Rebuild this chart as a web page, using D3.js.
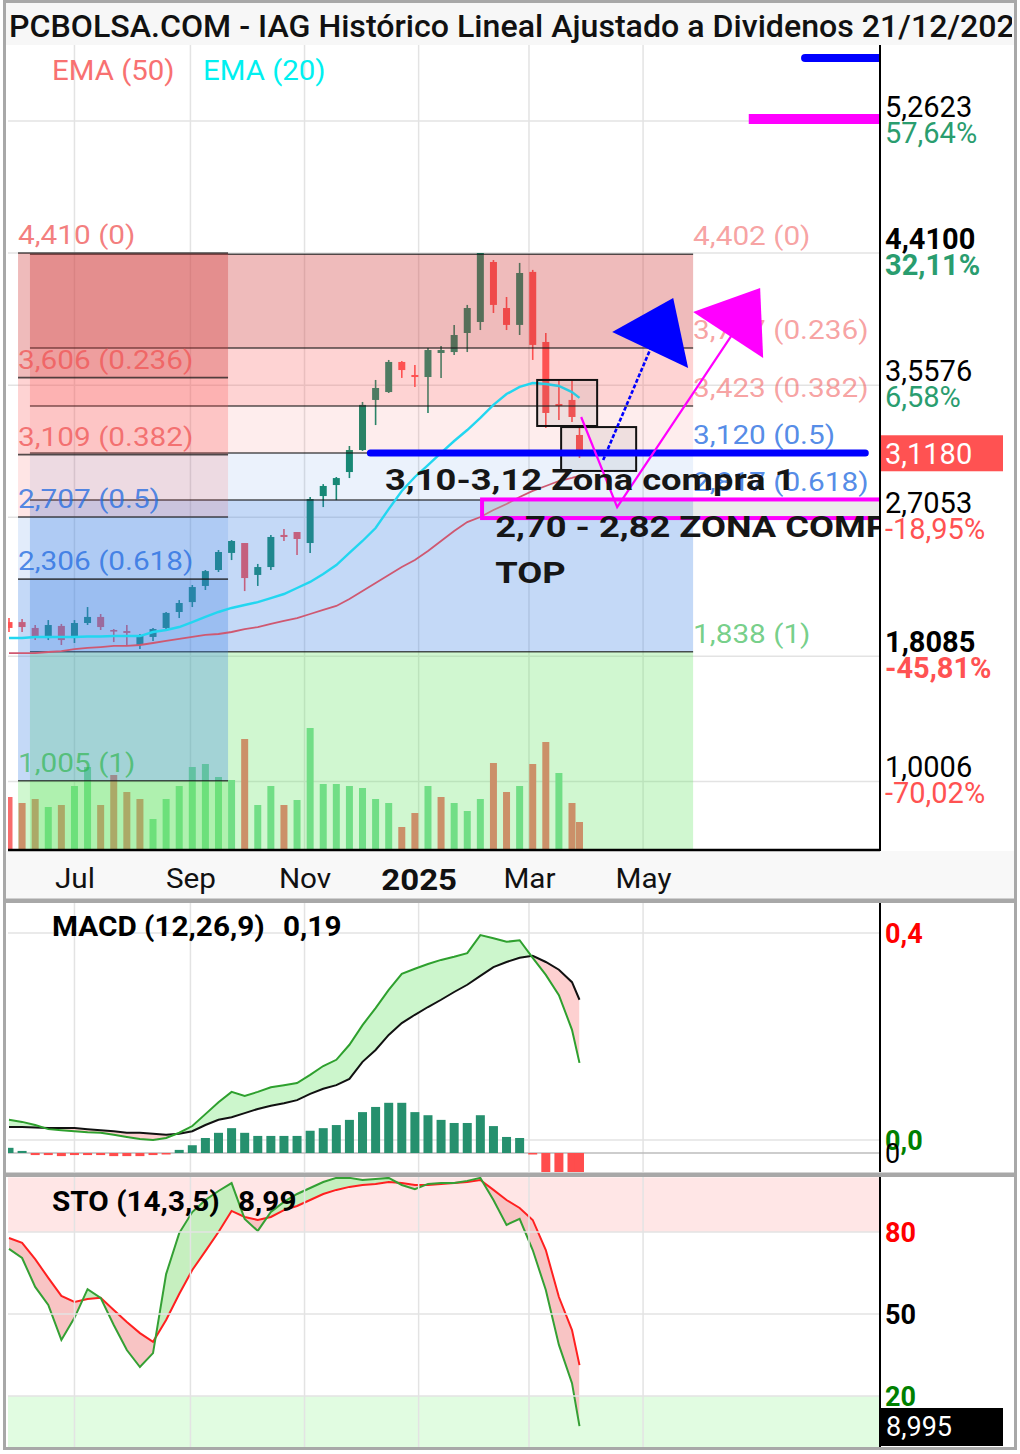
<!DOCTYPE html>
<html>
<head>
<meta charset="utf-8">
<script src="https://d3js.org/d3.v7.min.js"></script>
<style>
  body { margin: 0; background: #ffffff; }
  svg text { font-family: Roboto, "Liberation Sans", sans-serif; }
</style>
</head>
<body>
<div id="chart"></div>
<script>
(function(d3) {
  'use strict';

  // weekly bars, IAG (the last one is a partial week)
  var dates = ['2024-05-27','2024-06-03','2024-06-10','2024-06-17','2024-06-24','2024-07-01','2024-07-08','2024-07-15','2024-07-22','2024-07-29',
               '2024-08-05','2024-08-12','2024-08-19','2024-08-26','2024-09-02','2024-09-09','2024-09-16','2024-09-23','2024-09-30','2024-10-07',
               '2024-10-14','2024-10-21','2024-10-28','2024-11-04','2024-11-11','2024-11-18','2024-11-25','2024-12-02','2024-12-09','2024-12-16',
               '2024-12-23','2024-12-30','2025-01-06','2025-01-13','2025-01-20','2025-01-27','2025-02-03','2025-02-10','2025-02-17','2025-02-24',
               '2025-03-03','2025-03-10','2025-03-17','2025-03-24','2025-03-28'];
  var opens  = [2.029,2.029,1.991,1.926,2.004,1.926,2.023,2.062,1.978,1.971,1.881,1.933,1.991,2.094,2.158,2.262,2.365,2.475,2.539,2.333,
                2.384,2.591,2.610,2.539,2.842,2.913,2.997,3.139,3.462,3.513,3.707,3.623,3.610,3.765,3.771,3.894,3.965,4.352,4.055,3.946,
                4.288,3.836,3.436,3.462,3.236];
  var highs  = [2.055,2.049,2.010,2.042,2.017,2.042,2.126,2.081,1.984,2.010,1.952,1.991,2.094,2.171,2.268,2.365,2.494,2.558,2.539,2.404,
                2.591,2.629,2.610,2.836,2.919,2.965,3.165,3.449,3.591,3.720,3.713,3.688,3.797,3.810,3.946,4.075,4.410,4.365,4.126,4.346,
                4.301,3.894,3.591,3.591,3.288];
  var lows   = [1.965,1.965,1.913,1.913,1.881,1.894,2.010,1.978,1.900,1.881,1.855,1.907,1.978,2.055,2.126,2.236,2.352,2.429,2.229,2.262,
                2.365,2.552,2.462,2.475,2.771,2.816,2.958,3.133,3.300,3.507,3.604,3.545,3.378,3.604,3.752,3.771,3.913,4.023,3.913,3.881,
                3.720,3.281,3.333,3.320,3.088];
  var closes = [1.991,1.997,1.933,2.010,1.913,2.023,2.062,1.997,1.968,1.959,1.939,1.984,2.088,2.152,2.255,2.358,2.481,2.552,2.313,2.384,
                2.578,2.578,2.565,2.823,2.907,2.958,3.139,3.430,3.539,3.707,3.655,3.610,3.784,3.784,3.881,4.055,4.410,4.075,3.946,4.281,
                3.817,3.378,3.423,3.352,3.118];
  var volumes = [53,47,51,43,45,64,83,45,75,58,51,31,51,64,83,86,73,70,111,45,64,45,50,122,66,66,64,62,51,47,23,37,64,53,47,39,51,87,58,64,86,108,77,47,28];
  var volUp   = [0,0,0,1,0,1,1,0,0,0,0,1,1,1,1,1,1,1,0,1,1,0,1,1,1,1,1,1,1,1,0,0,1,0,1,1,1,0,0,1,0,0,1,0,0];

  var ema20 = [1.926,1.926,1.933,1.933,1.933,1.933,1.936,1.936,1.939,1.939,1.939,1.965,1.978,1.997,2.029,2.062,2.094,2.120,2.139,2.158,
               2.184,2.210,2.249,2.288,2.339,2.397,2.475,2.552,2.636,2.758,2.875,2.965,3.042,3.120,3.197,3.268,3.346,3.430,3.500,3.546,
               3.571,3.565,3.552,3.513,3.475];
  var ema50 = [1.829,1.829,1.829,1.836,1.842,1.855,1.862,1.868,1.875,1.875,1.881,1.894,1.907,1.920,1.933,1.946,1.952,1.965,1.984,1.997,
               2.017,2.036,2.055,2.081,2.107,2.133,2.178,2.229,2.281,2.333,2.384,2.429,2.487,2.552,2.616,2.674,2.707,2.752,2.791,2.836,
               2.875,2.907,2.939,2.959,2.972];

  var macd   = [0.039,0.035,0.029,0.021,0.019,0.017,0.015,0.014,0.010,0.006,0.002,0.000,0.004,0.014,0.027,0.050,0.073,0.093,0.085,0.093,
                0.102,0.106,0.110,0.126,0.143,0.155,0.184,0.222,0.255,0.290,0.321,0.331,0.340,0.348,0.354,0.361,0.396,0.390,0.383,0.386,
                0.352,0.319,0.280,0.213,0.149];
  var signal = [0.025,0.025,0.024,0.023,0.023,0.023,0.021,0.019,0.017,0.014,0.014,0.012,0.010,0.012,0.017,0.029,0.039,0.044,0.052,0.060,
                0.066,0.071,0.077,0.089,0.099,0.106,0.118,0.151,0.174,0.203,0.226,0.242,0.257,0.271,0.286,0.300,0.317,0.334,0.344,0.352,
                0.356,0.344,0.329,0.305,0.271];
  var hist   = [0.010,0.004,-0.004,-0.004,-0.006,-0.004,-0.004,-0.004,-0.006,-0.006,-0.006,-0.004,-0.002,0.006,0.015,0.029,0.039,0.048,0.039,0.033,
                0.033,0.033,0.033,0.043,0.048,0.054,0.064,0.079,0.089,0.097,0.097,0.079,0.073,0.064,0.058,0.058,0.073,0.052,0.031,0.029,
                -0.002,-0.06,-0.06,-0.06,-0.06];

  var stoK = [73.8,70.5,59.9,53.3,40.5,48.6,59.1,55.9,46.0,36.8,30.6,35.7,64.6,79.6,87.3,91.7,95.0,97.9,84.8,80.4,
              87.3,91.0,93.9,96.1,98.3,99.8,99.8,99.0,99.4,99.8,97.2,95.7,97.6,97.9,97.9,98.7,99.8,91.7,82.6,84.8,
              73.4,58.8,38.7,24.7,9.0];
  var stoD = [77.8,76.0,70.1,63.2,56.6,54.4,55.5,55.9,51.5,47.1,43.0,39.8,47.8,57.3,66.1,73.0,80.0,87.7,85.5,84.4,
              85.5,88.0,89.5,91.7,93.9,95.4,96.5,97.2,97.6,98.3,97.9,97.2,97.2,97.6,97.9,98.3,99.0,95.4,91.7,88.8,
              84.4,73.4,56.2,44.1,31.3];

  var tickDates  = ['2024-07-01','2024-09-01','2024-11-01','2025-01-01','2025-03-01','2025-05-01'];
  var tickLabels = ['Jul','Sep','Nov','2025','Mar','May'];

  var axisPrices = [5.2623, 4.4100, 3.5576, 2.7053, 1.8085, 1.0006];
  var axisPct    = ['57,64%','32,11%','6,58%','-18,95%','-45,81%','-70,02%'];
  var axisBold   = [0,1,0,0,1,0];
  var lastPrice  = 3.118;

  var fibRatios = [0, 0.236, 0.382, 0.5, 0.618, 1];
  var fibLeft   = [4.410, 3.606, 3.109, 2.707, 2.306, 1.005];
  var fibRight  = [4.402, 3.797, 3.423, 3.120, 2.817, 1.838];

  // drawings: [weeks after first bar, price]
  var fibLeftSpan  = [0.69, 16.73];
  var fibRightSpan = [1.60, 52.25];
  var zone1 = [27.6, 65.4, 3.12];
  var zone2 = [36.13, 67, 2.82, 2.70];
  var targetBlue = [60.8, 67, 5.668];
  var targetPink = [56.5, 67, 5.275];
  var boxes = [[40.34, 44.92, 3.591, 3.294], [42.17, 47.90, 3.287, 3.004]];
  var blueLine = [[45.38, 3.074], [49.12, 3.817]];
  var blueHead = [[46.07, 3.900], [50.73, 4.120], [51.87, 3.668]];
  var pinkLine = [[43.70, 3.352], [46.45, 2.771], [55.46, 3.913]];
  var pinkHead = [[52.25, 4.029], [57.37, 4.184], [57.60, 3.733]];
  var notes = [
    { w: 28.72, p: 2.881, text: '3,10-3,12 Zona compra 1' },
    { w: 37.13, p: 2.578, text: '2,70 - 2,82 ZONA COMPRA' },
    { w: 37.13, p: 2.281, text: 'TOP' }
  ];

  var W = 1020, H = 1454, L = 8, R = 880;
  var parse = d3.utcParse('%Y-%m-%d');
  var dts = dates.map(parse);
  var ticks = tickDates.map(parse);

  var x  = d3.scaleUtc().domain([dts[0], dts[43]]).range([9, 572]);
  var y  = d3.scaleLinear().domain([1.005, 4.41]).range([780.8, 253]);
  var yv = d3.scaleLinear().domain([0, 150]).range([850, 700]);
  var ym = d3.scaleLinear().domain([0, 0.4]).range([1140, 933]);
  var yh = d3.scaleLinear().domain([0, 0.4]).range([1153, 946]);
  var ys = d3.scaleLinear().domain([20, 80]).range([1396, 1232]);

  function xw(w) { return x(new Date(dts[0].getTime() + w * 7 * 864e5)); }
  function xi(d, i) { return x(dts[i]); }
  function comma(v, n) { return v.toFixed(n).replace('.', ','); }
  function stretch(sel, k) {
    sel.each(function() {
      var len = this.getComputedTextLength();
      d3.select(this).attr('textLength', len * k).attr('lengthAdjust', 'spacingAndGlyphs');
    });
    return sel;
  }

  var svg = d3.select('#chart').append('svg')
    .attr('width', W).attr('height', H).style('display', 'block');
  var defs = svg.append('defs');
  function clipRect(id, x0, y0, w, h) {
    defs.append('clipPath').attr('id', id).append('rect')
      .attr('x', x0).attr('y', y0).attr('width', w).attr('height', h);
  }
  clipRect('cMain', L, 45, R - L, 805);
  clipRect('cMacd', L, 903, R - L, 269);
  clipRect('cSto', L, 1177, R - L, 270);
  clipRect('cTitle', 0, 0, 1012, 45);

  svg.append('rect').attr('width', W).attr('height', H).attr('fill', '#fff');
  svg.append('rect').attr('x', 5).attr('y', 2).attr('width', 1010).attr('height', 43).attr('fill', '#f7f7f7');
  svg.append('rect').attr('x', 5).attr('y', 851).attr('width', 1010).attr('height', 48).attr('fill', '#f8f8f8');

  // ---------- STO bands (under grid)
  var sto = svg.append('g').attr('clip-path', 'url(#cSto)');
  sto.append('rect').attr('x', L).attr('width', R - L).attr('y', ys(100)).attr('height', ys(80) - ys(100)).attr('fill', '#ffe6e6');
  sto.append('rect').attr('x', L).attr('width', R - L).attr('y', ys(20)).attr('height', ys(0) - ys(20)).attr('fill', '#e1fce1');

  // ---------- grid
  var grid = svg.append('g').attr('stroke', '#e3e3e3').attr('stroke-width', 1.5);
  ticks.forEach(function(d) {
    [[45, 850], [903, 1172], [1177, 1447]].forEach(function(r) {
      grid.append('line').attr('x1', x(d)).attr('x2', x(d)).attr('y1', r[0]).attr('y2', r[1]);
    });
  });
  axisPrices.forEach(function(v) {
    grid.append('line').attr('x1', L).attr('x2', R).attr('y1', y(v)).attr('y2', y(v));
  });
  [ym(0.4), ym(0), ys(80), ys(50), ys(20)].forEach(function(v) {
    grid.append('line').attr('x1', L).attr('x2', R).attr('y1', v).attr('y2', v);
  });
  grid.append('line').attr('x1', L).attr('x2', R).attr('y1', yh(0)).attr('y2', yh(0)).attr('stroke', '#bdbdbd');

  // ---------- main price panel
  var main = svg.append('g').attr('clip-path', 'url(#cMain)');

  main.selectAll('rect.vol').data(volumes).enter().append('rect')
    .attr('x', function(d, i) { return x(dts[i]) - 3.5; })
    .attr('width', 7)
    .attr('y', function(d) { return yv(d); })
    .attr('height', function(d) { return yv(0) - yv(d); })
    .attr('fill', function(d, i) { return volUp[i] ? '#78dc96' : '#f86c6c'; });

  var candle = main.selectAll('g.candle').data(dts).enter().append('g');
  candle.append('line')
    .attr('x1', xi).attr('x2', xi)
    .attr('y1', function(d, i) { return y(highs[i]); })
    .attr('y2', function(d, i) { return y(lows[i]); })
    .attr('stroke', function(d, i) { return closes[i] >= opens[i] ? '#148a69' : '#ff5252'; })
    .attr('stroke-width', 1.6);
  candle.append('rect')
    .attr('x', function(d, i) { return x(d) - 3.5; })
    .attr('width', 7)
    .attr('y', function(d, i) { return y(Math.max(opens[i], closes[i])); })
    .attr('height', function(d, i) { return Math.max(1.6, Math.abs(y(opens[i]) - y(closes[i]))); })
    .attr('fill', function(d, i) { return closes[i] >= opens[i] ? '#148a69' : '#ff5252'; });

  // ---------- fibonacci retracements
  function drawFib(span, prices, fills, labelAtEnd) {
    var g = main.append('g');
    var x0 = xw(span[0]), x1 = xw(span[1]);
    for (var k = 0; k < prices.length - 1; k++) {
      g.append('rect').attr('x', x0).attr('width', x1 - x0)
        .attr('y', y(prices[k])).attr('height', y(prices[k + 1]) - y(prices[k]))
        .attr('fill', fills[k]);
    }
    g.append('rect').attr('x', x0).attr('width', x1 - x0)
      .attr('y', y(prices[prices.length - 1])).attr('height', 850 - y(prices[prices.length - 1]))
      .attr('fill', 'rgba(100,230,100,0.3)');
    prices.forEach(function(p) {
      g.append('line').attr('x1', x0).attr('x2', x1).attr('y1', y(p)).attr('y2', y(p))
        .attr('stroke', 'rgba(25,25,25,0.75)').attr('stroke-width', 1.6);
    });
    return { g: g, x: labelAtEnd ? x1 : x0 };
  }
  function fibLabels(f, prices, alpha) {
    prices.forEach(function(p, k) {
      var r = fibRatios[k];
      var col = r < 0.5 ? 'rgba(240,85,85,' + alpha + ')' : (r < 1 ? 'rgba(40,110,225,0.8)' : 'rgba(40,180,70,0.65)');
      stretch(f.g.append('text').attr('x', f.x).attr('y', y(p) - 9)
        .attr('font-size', 25).attr('fill', col)
        .text(comma(p, 3) + ' (' + r + ')'), 1.19);
    });
  }
  var fr = drawFib(fibRightSpan, fibRight,
    ['rgba(210,60,60,0.35)', 'rgba(250,80,80,0.25)', 'rgba(250,80,80,0.1)', 'rgba(60,130,230,0.1)', 'rgba(60,130,230,0.3)'], true);
  var fl = drawFib(fibLeftSpan, fibLeft,
    ['rgba(210,60,60,0.35)', 'rgba(250,80,80,0.25)', 'rgba(250,80,80,0.15)', 'rgba(60,130,230,0.15)', 'rgba(60,130,230,0.3)'], false);

  // moving averages
  var emaLine = function(arr) {
    return d3.line().x(xi).y(function(d) { return y(d); })(arr);
  };
  main.append('path').attr('d', emaLine(ema50)).attr('fill', 'none').attr('stroke', '#cf5871').attr('stroke-width', 1.8);
  main.append('path').attr('d', emaLine(ema20)).attr('fill', 'none').attr('stroke', '#22d6f0').attr('stroke-width', 2.4);

  fibLabels(fr, fibRight, 0.55);
  fibLabels(fl, fibLeft, 0.75);

  // ---------- drawings
  var dr = main.append('g');
  dr.append('rect')
    .attr('x', xw(zone2[0])).attr('width', xw(zone2[1]) - xw(zone2[0]))
    .attr('y', y(zone2[2])).attr('height', y(zone2[3]) - y(zone2[2]))
    .attr('fill', 'rgba(190,190,190,0.3)').attr('stroke', '#ff00ff').attr('stroke-width', 4);
  boxes.forEach(function(b) {
    dr.append('rect')
      .attr('x', xw(b[0])).attr('width', xw(b[1]) - xw(b[0]))
      .attr('y', y(b[2])).attr('height', y(b[3]) - y(b[2]))
      .attr('fill', 'rgba(110,110,110,0.1)').attr('stroke', '#111').attr('stroke-width', 2);
  });
  dr.append('line').attr('x1', xw(zone1[0])).attr('x2', xw(zone1[1])).attr('y1', y(zone1[2])).attr('y2', y(zone1[2]))
    .attr('stroke', '#0000ff').attr('stroke-width', 7).attr('stroke-linecap', 'round');
  dr.append('line').attr('x1', xw(targetBlue[0])).attr('x2', xw(targetBlue[1])).attr('y1', y(targetBlue[2])).attr('y2', y(targetBlue[2]))
    .attr('stroke', '#0000ff').attr('stroke-width', 8).attr('stroke-linecap', 'round');
  dr.append('line').attr('x1', xw(targetPink[0])).attr('x2', xw(targetPink[1])).attr('y1', y(targetPink[2])).attr('y2', y(targetPink[2]))
    .attr('stroke', '#ff00ff').attr('stroke-width', 10);

  var pt = d3.line().x(function(d) { return xw(d[0]); }).y(function(d) { return y(d[1]); });
  dr.append('path').attr('d', pt(pinkLine)).attr('fill', 'none').attr('stroke', '#ff00ff').attr('stroke-width', 2.2);
  dr.append('path').attr('d', pt(blueLine)).attr('fill', 'none').attr('stroke', '#0000ff').attr('stroke-width', 2.6).attr('stroke-dasharray', '4,2');
  dr.append('path').attr('d', pt(blueHead) + 'Z').attr('fill', '#0000ff');
  dr.append('path').attr('d', pt(pinkHead) + 'Z').attr('fill', '#ff00ff');

  notes.forEach(function(n) {
    stretch(dr.append('text').attr('x', xw(n.w)).attr('y', y(n.p))
      .attr('font-size', 30).attr('font-weight', 700).attr('fill', '#161616')
      .text(n.text), 1.21);
  });

  // ---------- legend and title
  stretch(svg.append('text').attr('x', 52).attr('y', 80).attr('font-size', 27).attr('fill', '#f87171').text('EMA (50)'), 1.09);
  stretch(svg.append('text').attr('x', 203).attr('y', 80).attr('font-size', 27).attr('fill', '#00f0f0').text('EMA (20)'), 1.09);
  svg.append('g').attr('clip-path', 'url(#cTitle)').append('text')
    .attr('x', 9).attr('y', 37).attr('font-size', 31).attr('font-weight', 500).attr('fill', '#111')
    .attr('textLength', 1024).attr('lengthAdjust', 'spacingAndGlyphs')
    .text('PCBOLSA.COM - IAG Histórico Lineal Ajustado a Dividenos 21/12/2024');

  // ---------- x axis
  var ax = svg.append('g').attr('transform', 'translate(0,850)')
    .call(d3.axisBottom(x).tickValues(ticks).tickSize(0).tickPadding(19)
      .tickFormat(function(d, i) { return tickLabels[i]; }));
  ax.select('.domain').remove();
  ax.attr('font-family', 'Roboto, sans-serif').attr('font-size', 26);
  ax.selectAll('text').attr('fill', '#111')
    .attr('font-size', function(d, i) { return tickLabels[i] === '2025' ? 30 : 27; })
    .attr('font-weight', function(d, i) { return tickLabels[i] === '2025' ? 700 : 400; });
  stretch(ax.selectAll('text'), 1.1);

  // ---------- price axis labels
  var ra = svg.append('g');
  axisPrices.forEach(function(v, i) {
    ra.append('text').attr('x', 885).attr('y', y(v) - 4).attr('font-size', 29)
      .attr('font-weight', axisBold[i] ? 700 : 400).attr('fill', '#000').text(comma(v, 4));
    ra.append('text').attr('x', 885).attr('y', y(v) + 22).attr('font-size', 29)
      .attr('font-weight', axisBold[i] ? 700 : 400)
      .attr('fill', axisPct[i].charAt(0) === '-' ? '#ff5252' : '#2a9d6f').text(axisPct[i]);
  });
  ra.append('rect').attr('x', 880).attr('y', y(lastPrice) - 18).attr('width', 123).attr('height', 36).attr('fill', '#ff5252');
  ra.append('text').attr('x', 885).attr('y', y(lastPrice) + 11).attr('font-size', 29).attr('fill', '#fff').text(comma(lastPrice, 4));

  // ---------- MACD panel
  var mg = svg.append('g').attr('clip-path', 'url(#cMacd)');
  mg.selectAll('rect.h').data(hist).enter().append('rect')
    .attr('x', function(d, i) { return x(dts[i]) - 4.5; })
    .attr('width', 9)
    .attr('y', function(d) { return d >= 0 ? yh(d) : yh(0); })
    .attr('height', function(d) { return Math.max(1.5, Math.abs(yh(d) - yh(0))); })
    .attr('fill', function(d) { return d >= 0 ? '#26906e' : '#ff4d4d'; });

  defs.append('clipPath').attr('id', 'macdUp').append('path')
    .attr('d', d3.area().x(xi).y0(880).y1(function(d, i) { return ym(signal[i]); })(signal));
  defs.append('clipPath').attr('id', 'macdDn').append('path')
    .attr('d', d3.area().x(xi).y0(1200).y1(function(d, i) { return ym(signal[i]); })(signal));
  var mBetween = d3.area().x(xi).y0(function(d, i) { return ym(signal[i]); }).y1(function(d, i) { return ym(macd[i]); });
  mg.append('path').attr('d', mBetween(macd)).attr('fill', '#ccf6cc').attr('clip-path', 'url(#macdUp)');
  mg.append('path').attr('d', mBetween(macd)).attr('fill', '#fdd0d0').attr('clip-path', 'url(#macdDn)');
  mg.append('path').attr('d', d3.line().x(xi).y(function(d) { return ym(d); })(signal))
    .attr('fill', 'none').attr('stroke', '#111').attr('stroke-width', 2);
  mg.append('path').attr('d', d3.line().x(xi).y(function(d) { return ym(d); })(macd))
    .attr('fill', 'none').attr('stroke', '#2ea02e').attr('stroke-width', 2);

  stretch(svg.append('text').attr('x', 52).attr('y', 936).attr('font-size', 27).attr('font-weight', 700).attr('fill', '#000').text('MACD (12,26,9)'), 1.1);
  stretch(svg.append('text').attr('x', 283).attr('y', 936).attr('font-size', 27).attr('font-weight', 700).attr('fill', '#000').text(comma(macd[macd.length - 1] + 0.041, 2)), 1.1);
  svg.append('text').attr('x', 885).attr('y', ym(0.4) + 10).attr('font-size', 27).attr('font-weight', 700).attr('fill', '#ff0000').text('0,4');
  svg.append('text').attr('x', 885).attr('y', ym(0) + 10).attr('font-size', 27).attr('font-weight', 700).attr('fill', '#008000').text('0,0');
  svg.append('text').attr('x', 885).attr('y', yh(0) + 10).attr('font-size', 27).attr('fill', '#000').text('0');

  // ---------- STO panel
  defs.append('clipPath').attr('id', 'stoUp').append('path')
    .attr('d', d3.area().x(xi).y0(1150).y1(function(d, i) { return ys(stoD[i]); })(stoD));
  defs.append('clipPath').attr('id', 'stoDn').append('path')
    .attr('d', d3.area().x(xi).y0(1480).y1(function(d, i) { return ys(stoD[i]); })(stoD));
  var sBetween = d3.area().x(xi).y0(function(d, i) { return ys(stoD[i]); }).y1(function(d, i) { return ys(stoK[i]); });
  sto.append('path').attr('d', sBetween(stoK)).attr('fill', '#c6efbf').attr('clip-path', 'url(#stoUp)');
  sto.append('path').attr('d', sBetween(stoK)).attr('fill', '#f8c4c4').attr('clip-path', 'url(#stoDn)');
  sto.append('path').attr('d', d3.line().x(xi).y(function(d) { return ys(d); })(stoD))
    .attr('fill', 'none').attr('stroke', '#ff2020').attr('stroke-width', 2);
  sto.append('path').attr('d', d3.line().x(xi).y(function(d) { return ys(d); })(stoK))
    .attr('fill', 'none').attr('stroke', '#34a034').attr('stroke-width', 2);

  stretch(svg.append('text').attr('x', 52).attr('y', 1211).attr('font-size', 27).attr('font-weight', 700).attr('fill', '#000').text('STO (14,3,5)'), 1.1);
  stretch(svg.append('text').attr('x', 238).attr('y', 1211).attr('font-size', 27).attr('font-weight', 700).attr('fill', '#000').text(comma(stoK[stoK.length - 1] - 0.01, 2)), 1.1);
  svg.append('text').attr('x', 885).attr('y', ys(80) + 10).attr('font-size', 27).attr('font-weight', 700).attr('fill', '#ff0000').text('80');
  svg.append('text').attr('x', 885).attr('y', ys(50) + 10).attr('font-size', 27).attr('font-weight', 700).attr('fill', '#000').text('50');
  svg.append('text').attr('x', 885).attr('y', ys(20) + 10).attr('font-size', 27).attr('font-weight', 700).attr('fill', '#008000').text('20');
  svg.append('rect').attr('x', 880).attr('y', 1408).attr('width', 123).attr('height', 38).attr('fill', '#000');
  svg.append('text').attr('x', 886).attr('y', 1436).attr('font-size', 27).attr('fill', '#fff').text(comma(stoK[stoK.length - 1] - 0.005, 3));

  // ---------- frame, axes lines, separators
  var fr2 = svg.append('g');
  fr2.append('line').attr('x1', L).attr('x2', R).attr('y1', 850).attr('y2', 850).attr('stroke', '#000').attr('stroke-width', 2.5);
  [[45, 851], [903, 1172], [1177, 1447]].forEach(function(r) {
    fr2.append('line').attr('x1', R).attr('x2', R).attr('y1', r[0]).attr('y2', r[1]).attr('stroke', '#000').attr('stroke-width', 2);
  });
  fr2.append('rect').attr('x', 5).attr('y', 898.5).attr('width', 1010).attr('height', 4.5).attr('fill', '#a8a8a8');
  fr2.append('rect').attr('x', 5).attr('y', 1172.5).attr('width', 1010).attr('height', 4.5).attr('fill', '#a8a8a8');
  fr2.append('rect').attr('x', 4.5).attr('y', 1.5).attr('width', 1011).attr('height', 1447)
    .attr('fill', 'none').attr('stroke', '#a8a8a8').attr('stroke-width', 3);

})(window.d3);
</script>
</body>
</html>
